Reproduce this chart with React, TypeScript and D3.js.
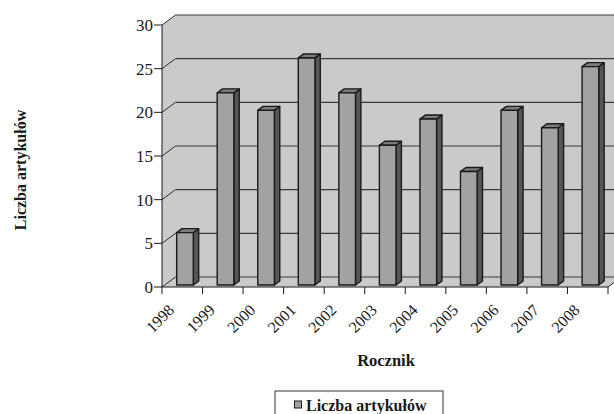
import React from "react";
import * as d3 from "d3";

// chart data
const years = ["1998", "1999", "2000", "2001", "2002", "2003", "2004", "2005", "2006", "2007", "2008"];
const articles = [6, 22, 20, 26, 22, 16, 19, 13, 20, 18, 25];
const yTicks = [0, 5, 10, 15, 20, 25, 30];

const W = 614;
const H = 414;
// 3D depth of the plot box
const DX = 13.5;
const DY = -10;

const font = "Liberation Serif, Times New Roman, DejaVu Serif, serif";

const App: React.FC = () => {
  const x = d3.scaleBand<string>().domain(years).range([162, 608]).padding(0);
  const y = d3.scaleLinear().domain([0, 30]).range([287, 25]);
  const bw = x.bandwidth();
  const barW = bw * 0.41;
  // bars sit a bit back in the depth, and have their own depth
  const f0 = 0.2;
  const fd = 0.4;
  const x0 = x.range()[0];
  const x1 = x.range()[1];

  const wallPath = `M${x0},${y(0)} L${x0},${y(30)} L${x0 + DX},${y(30) + DY} L${W + 20},${y(30) + DY} L${W + 20},${y(0) + DY} L${x1 + DX},${y(0) + DY} L${x1},${y(0)} Z`;

  return (
    <svg width={W} height={H} style={{ position: "absolute", left: 0, top: 0, background: "#fff", fontFamily: font }}>
      {/* walls + floor */}
      <path d={wallPath} fill="#c9cacc" stroke="none" />
      {/* gridlines on back wall and side wall */}
      {yTicks.map((t) => (
        <g key={t}>
          <line x1={x0} y1={y(t)} x2={x0 + DX} y2={y(t) + DY} stroke="#2a2a2a" strokeWidth={1} />
          <line x1={x0 + DX} y1={y(t) + DY} x2={W + 20} y2={y(t) + DY} stroke="#3a3a3a" strokeWidth={1.2} />
        </g>
      ))}
      {/* floor right edge */}
      <line x1={x1} y1={y(0)} x2={x1 + DX} y2={y(0) + DY} stroke="#2a2a2a" strokeWidth={1} />

      {/* bars */}
      {years.map((yr, i) => {
        const v = articles[i];
        const bx = (x(yr) as number) + (bw - barW) / 2 + DX * f0;
        const by0 = y(0) + DY * f0;
        const byTop = by0 - (y(0) - y(v));
        const ddx = DX * fd;
        const ddy = DY * fd;
        return (
          <g key={yr} stroke="#1a1a1a" strokeWidth={1.4} strokeLinejoin="round">
            <path
              d={`M${bx + barW},${by0} L${bx + barW + ddx},${by0 + ddy} L${bx + barW + ddx},${byTop + ddy} L${bx + barW},${byTop} Z`}
              fill="#565656"
            />
            <path
              d={`M${bx},${byTop} L${bx + ddx},${byTop + ddy} L${bx + barW + ddx},${byTop + ddy} L${bx + barW},${byTop} Z`}
              fill="#7c7c7c"
            />
            <rect x={bx} y={byTop} width={barW} height={by0 - byTop} fill="#a2a2a2" />
          </g>
        );
      })}

      {/* y axis */}
      <line x1={x0} y1={y(0)} x2={x0} y2={y(30)} stroke="#1a1a1a" strokeWidth={1} />
      {yTicks.map((t) => (
        <g key={"yt" + t}>
          <line x1={x0 - 8} y1={y(t)} x2={x0} y2={y(t)} stroke="#1a1a1a" strokeWidth={1} />
          <text x={x0 - 9} y={y(t)} dy="0.35em" textAnchor="end" fontSize={17} fill="#1a1a1a" style={{ fontFamily: font }}>
            {t}
          </text>
        </g>
      ))}

      {/* x axis */}
      <line x1={x0} y1={y(0)} x2={x1} y2={y(0)} stroke="#1a1a1a" strokeWidth={1} />
      {[...years.map((yr) => x(yr) as number), x1].map((px, i) => (
        <line key={"xt" + i} x1={px} y1={y(0)} x2={px} y2={y(0) + 7} stroke="#1a1a1a" strokeWidth={1} />
      ))}
      {years.map((yr) => {
        const cx = (x(yr) as number) + bw / 2 - 7;
        const cy = y(0) + 24;
        return (
          <text
            key={"xl" + yr}
            x={cx}
            y={cy}
            textAnchor="end"
            fontSize={16}
            fill="#1a1a1a"
            style={{ fontFamily: font }}
            transform={`rotate(-45, ${cx}, ${cy})`}
          >
            {yr}
          </text>
        );
      })}

      {/* axis titles */}
      <text x={386} y={366} textAnchor="middle" fontSize={16.5} fontWeight="bold" fill="#1a1a1a" style={{ fontFamily: font }}>
        Rocznik
      </text>
      <text
        x={0}
        y={0}
        textAnchor="middle"
        fontSize={16}
        fontWeight="bold"
        fill="#1a1a1a"
        style={{ fontFamily: font }}
        transform={`translate(26, 170) rotate(-90)`}
      >
        Liczba artykułów
      </text>

      {/* legend */}
      <rect x={275} y={391} width={168} height={30} fill="#fff" stroke="#333" strokeWidth={1} />
      <rect x={294.5} y={401} width={7} height={7} fill="#a2a2a2" stroke="#1a1a1a" strokeWidth={1} />
      <text x={306} y={411} fontSize={16} fontWeight="bold" fill="#1a1a1a" style={{ fontFamily: font }}>
        Liczba artykułów
      </text>
    </svg>
  );
};

export default App;
